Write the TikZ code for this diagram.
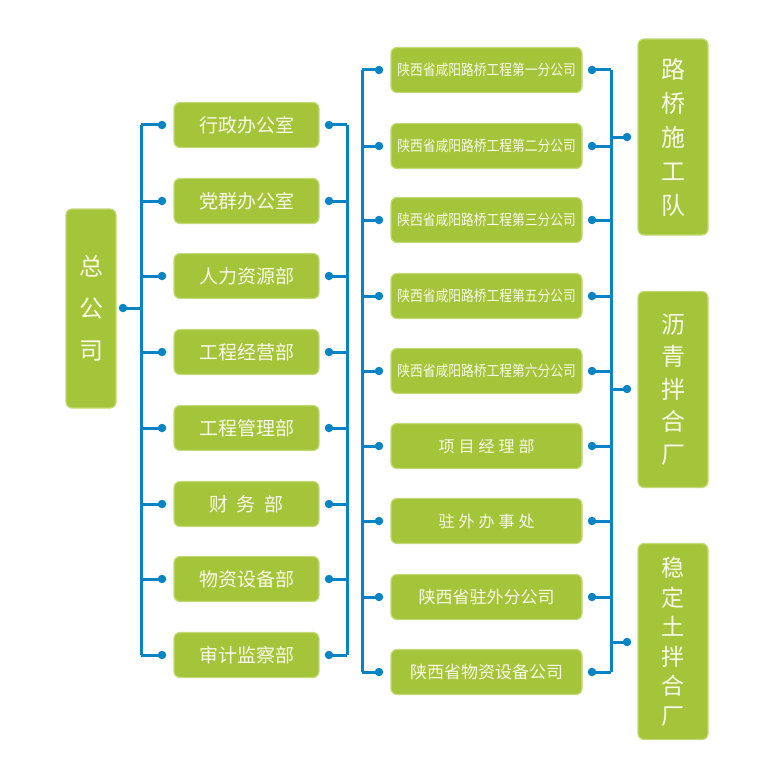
\documentclass[tikz,border=0pt]{standalone}
\usepackage{fontspec}
\newfontfamily\cjk{Noto Sans CJK SC}
\definecolor{boxgreen}{RGB}{164,196,57}
\definecolor{boxedge}{RGB}{196,218,120}
\definecolor{linkblue}{RGB}{8,132,196}
\definecolor{txtwhite}{RGB}{248,250,232}
\tikzset{
  gbox/.style={fill=boxgreen, draw=boxedge, line width=1.2pt, rounded corners=6pt, inner sep=0pt, text=txtwhite, align=center},
  leftbox/.style={gbox, minimum width=145pt, minimum height=45pt, font=\cjk\fontsize{19}{22}\selectfont},
  midbox/.style={gbox, minimum width=191pt, minimum height=45pt},
  midsmall/.style={font=\cjk\fontsize{15}{18}\selectfont},
  midbig/.style={font=\cjk\fontsize{17}{20}\selectfont},
  rightbox/.style={gbox, minimum width=70pt, minimum height=196pt},
  dotn/.style={circle, fill=linkblue, inner sep=0pt, minimum size=8.5pt},
  link/.style={draw=linkblue, line width=3pt},
}
\begin{document}
\begin{tikzpicture}[x=1pt,y=-1pt]
\useasboundingbox[fill=white] (0,0) rectangle (773,765);
% head
\node[gbox, minimum width=50pt, minimum height=199pt, font=\cjk\fontsize{24}{42}\selectfont] (hq) at (91,308.5) {总\\公\\司};
% left column
\node[leftbox] (L1) at (246.5,125) {行政办公室};
\node[leftbox] (L2) at (246.5,201) {党群办公室};
\node[leftbox] (L3) at (246.5,276) {人力资源部};
\node[leftbox] (L4) at (246.5,352) {工程经营部};
\node[leftbox] (L5) at (246.5,428) {工程管理部};
\node[leftbox] (L6) at (246.5,504) {财\hspace{9pt}务\hspace{9pt}部};
\node[leftbox] (L7) at (246.5,579) {物资设备部};
\node[leftbox] (L8) at (246.5,655) {审计监察部};
% middle column
\node[midbox, midsmall] (M1) at (486.5,70) {\scalebox{0.85}[1]{陕西省咸阳路桥工程第一分公司}};
\node[midbox, midsmall] (M2) at (486.5,146) {\scalebox{0.85}[1]{陕西省咸阳路桥工程第二分公司}};
\node[midbox, midsmall] (M3) at (486.5,220) {\scalebox{0.85}[1]{陕西省咸阳路桥工程第三分公司}};
\node[midbox, midsmall] (M4) at (486.5,296) {\scalebox{0.85}[1]{陕西省咸阳路桥工程第五分公司}};
\node[midbox, midsmall] (M5) at (486.5,371) {\scalebox{0.85}[1]{陕西省咸阳路桥工程第六分公司}};
\node[midbox, font=\cjk\fontsize{16}{19}\selectfont] (M6) at (486.5,446) {项\hspace{4pt}目\hspace{4pt}经\hspace{4pt}理\hspace{4pt}部};
\node[midbox, font=\cjk\fontsize{16}{19}\selectfont] (M7) at (486.5,521) {驻\hspace{4pt}外\hspace{4pt}办\hspace{4pt}事\hspace{4pt}处};
\node[midbox, midbig] (M8) at (486.5,597) {陕西省驻外分公司};
\node[midbox, midbig] (M9) at (486.5,672) {陕西省物资设备公司};
% right column
\node[rightbox, font=\cjk\fontsize{24}{34}\selectfont] (R1) at (673,137) {路\\桥\\施\\工\\队};
\node[rightbox, font=\cjk\fontsize{24}{32.5}\selectfont] (R2) at (673,389.5) {沥\\青\\拌\\合\\厂};
\node[rightbox, font=\cjk\fontsize{23}{29.5}\selectfont] (R3) at (673,641.5) {稳\\定\\土\\拌\\合\\厂};
% bus coordinates
\coordinate (busA) at (141,0);
\coordinate (busB) at (347,0);
\coordinate (busC) at (362,0);
\coordinate (busD) at (611,0);
% dots
\node[dotn] (dhq) at (123,308) {};
\foreach \i/\y in {1/125,2/201,3/276,4/352,5/428,6/504,7/579,8/655}{
  \node[dotn] (dLa\i) at (162,\y) {};
  \node[dotn] (dLb\i) at (329,\y) {};
}
\foreach \i/\y in {1/70,2/146,3/220,4/296,5/371,6/446,7/521,8/597,9/672}{
  \node[dotn] (dMa\i) at (379,\y) {};
  \node[dotn] (dMb\i) at (592,\y) {};
}
\node[dotn] (dR1) at (627,137) {};
\node[dotn] (dR2) at (627,389) {};
\node[dotn] (dR3) at (627,642) {};
% links
\draw[link] (dhq.center) -- (dhq -| busA);
\draw[link] (busA |- dLa1) -- (busA |- dLa8);
\draw[link] (busB |- dLb1) -- (busB |- dLb8);
\draw[link] (busC |- dMa1) -- (busC |- dMa9);
\draw[link] (busD |- dMb1) -- (busD |- dMb9);
\foreach \i in {1,...,8}{
  \draw[link] (dLa\i.center) -- (dLa\i -| busA);
  \draw[link] (dLb\i.center) -- (dLb\i -| busB);
}
\foreach \i in {1,...,9}{
  \draw[link] (dMa\i.center) -- (dMa\i -| busC);
  \draw[link] (dMb\i.center) -- (dMb\i -| busD);
}
\foreach \i in {1,2,3}{
  \draw[link] (dR\i.center) -- (dR\i -| busD);
}
\end{tikzpicture}
\end{document}
